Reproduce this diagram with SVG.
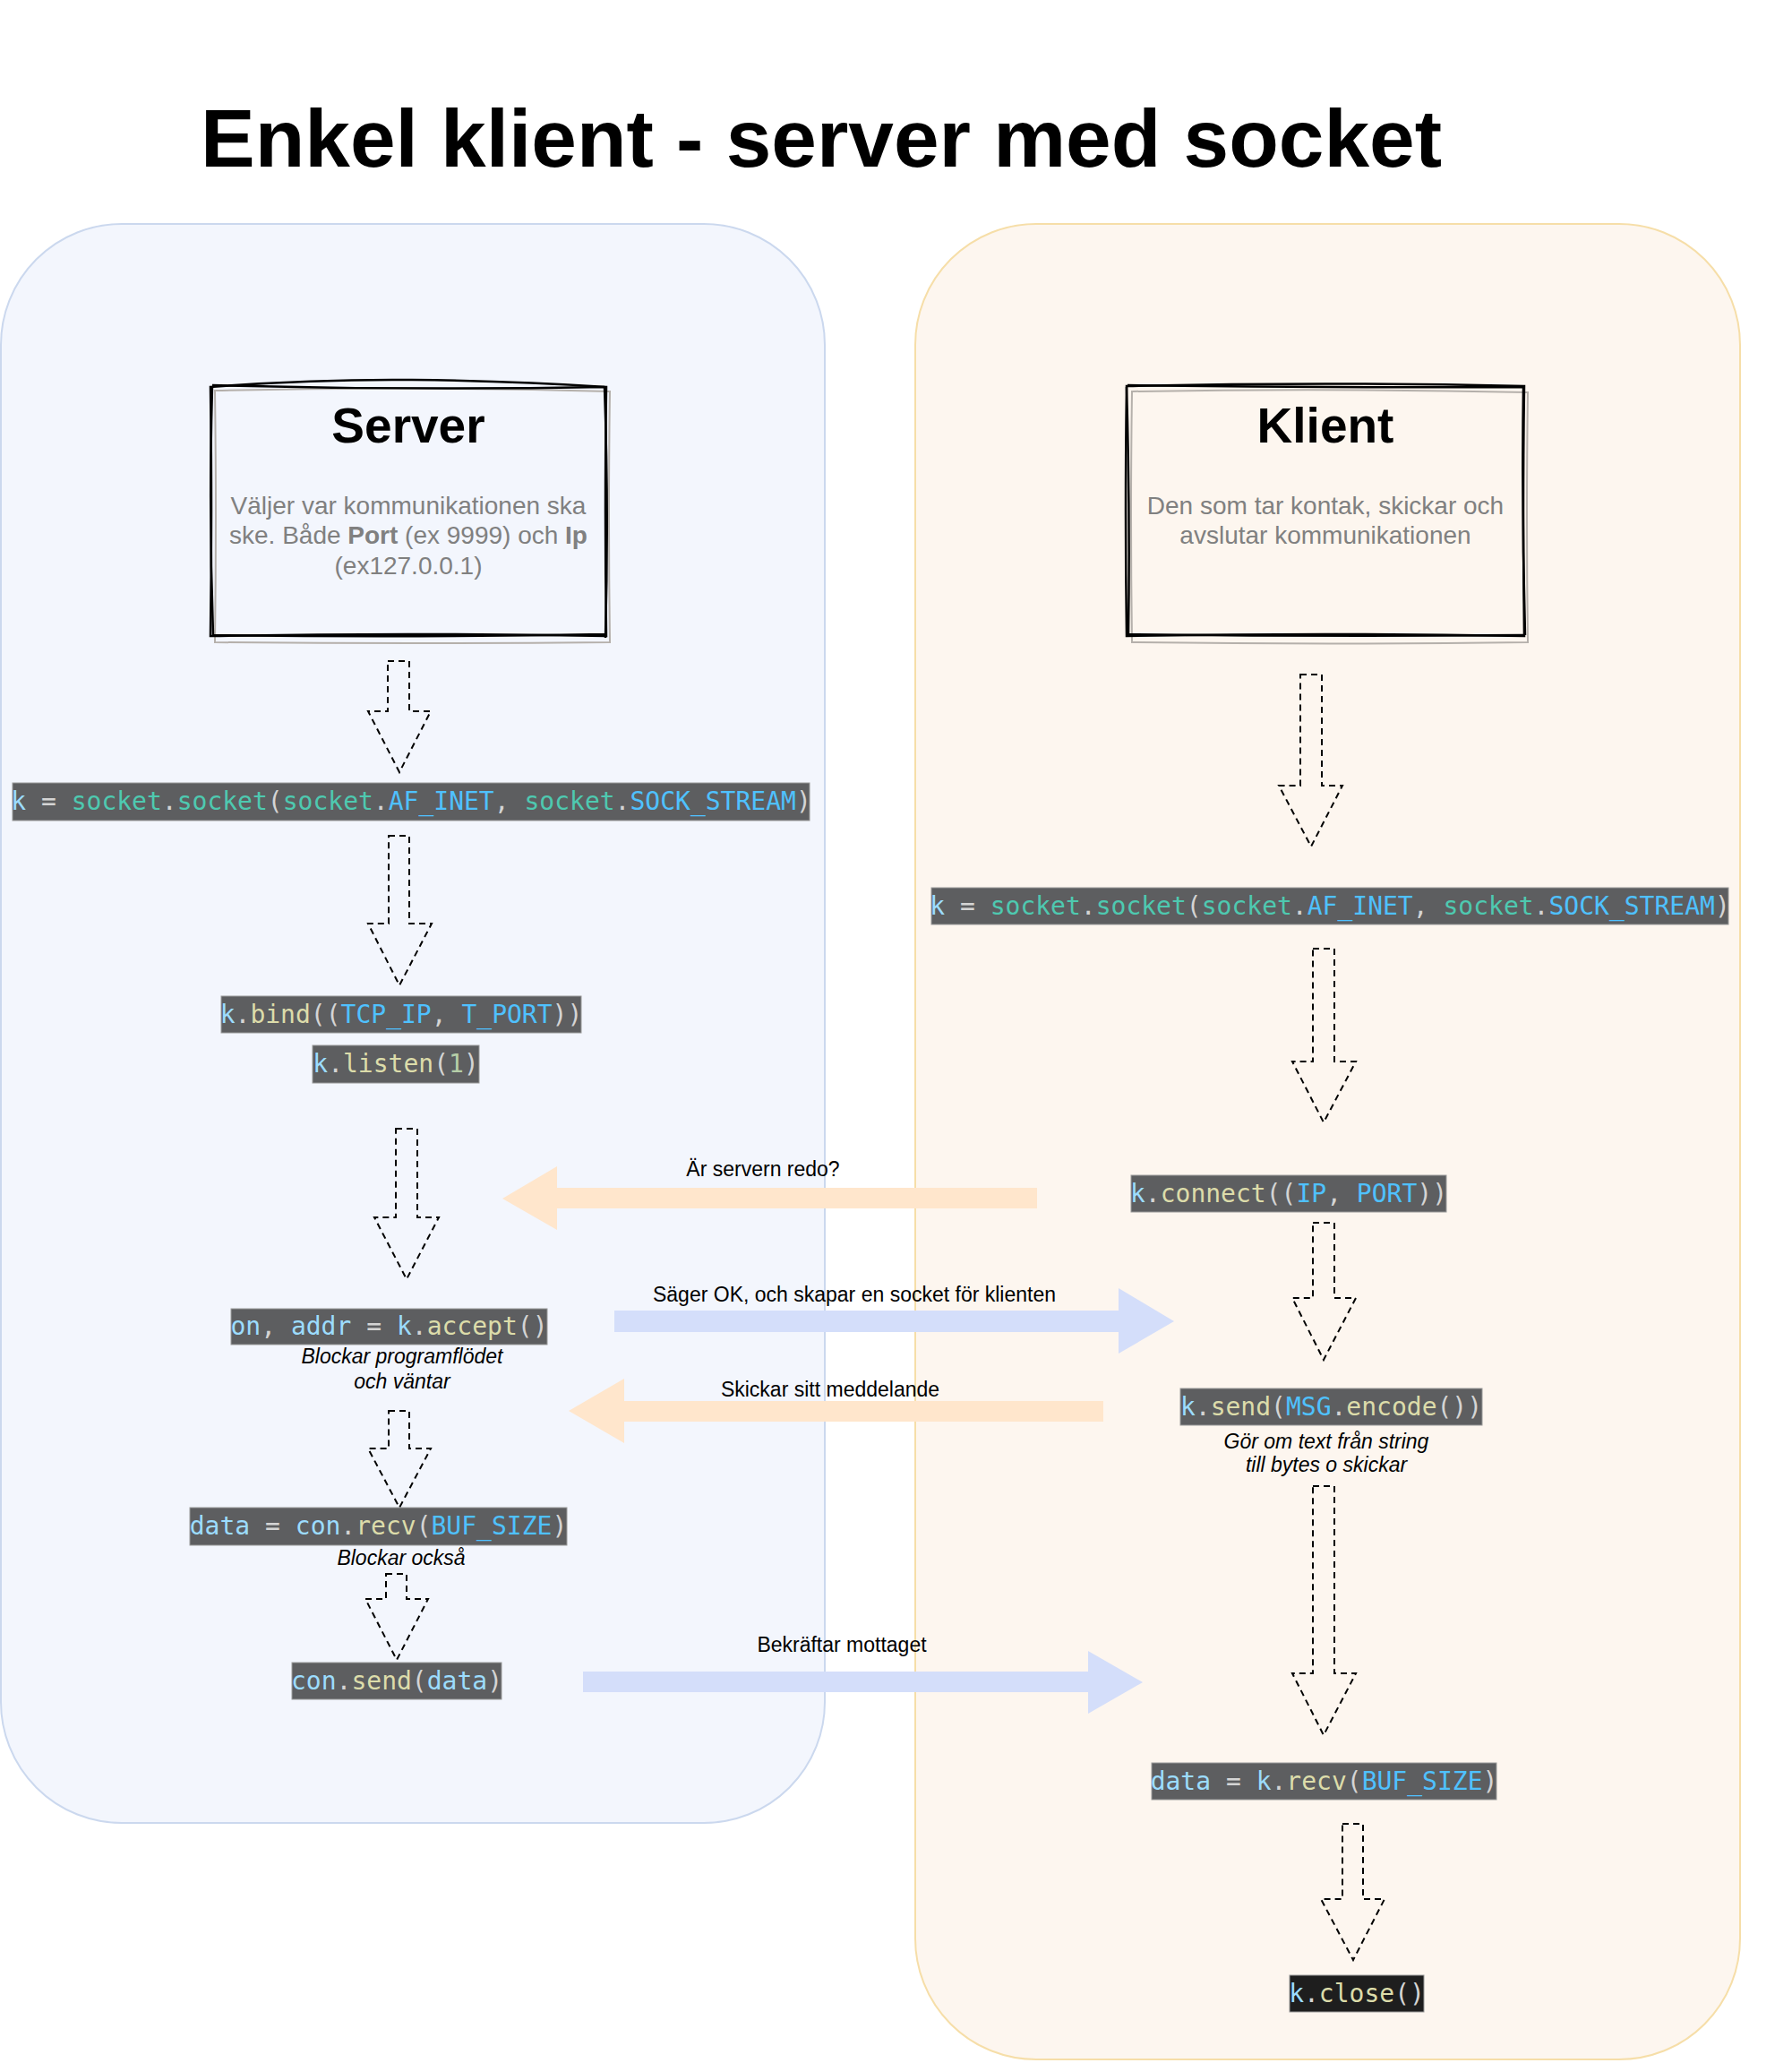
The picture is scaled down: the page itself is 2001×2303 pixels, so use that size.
<svg xmlns="http://www.w3.org/2000/svg" width="2001" height="2303" viewBox="0 0 2001 2303">
<style>
.t{font-family:"Liberation Sans",Arial,sans-serif}
.title{font-size:91px;font-weight:bold;fill:#000}
.head{font-size:55px;font-weight:bold;fill:#000}
.desc{font-size:28px;fill:#808080}
.lbl{font-size:23px;fill:#000}
.note{font-size:23px;font-style:italic;fill:#000}
.code{font-family:"DejaVu Sans Mono","Liberation Mono",monospace;font-size:28px;fill:#d4d4d4}
.cbox{fill:#5d5e60;stroke:#9a9a9a;stroke-width:1}
.cbox2{fill:#1e1e1e;stroke:#9a9a9a;stroke-width:1}
.v{fill:#9cdcfe}.c{fill:#4ec9b0}.f{fill:#dcdcaa}.k{fill:#4fc1ff}.n{fill:#b5cea8}
.da{fill:none;stroke:#000;stroke-width:2;stroke-dasharray:7 5}
.sk1{fill:none;stroke:#000;stroke-width:2.5}
.sk2{fill:none;stroke:#b5b0ab;stroke-width:2}
</style>
<rect width="2001" height="2303" fill="#ffffff"/>
<text class="t title" x="917" y="186" text-anchor="middle">Enkel klient - server med socket</text>

<g id="server-container">
<rect x="1" y="250" width="920" height="1785" rx="135" ry="135" fill="#f3f6fd" stroke="#cbd8ee" stroke-width="2"/>
</g>
<g id="client-container">
<rect x="1022" y="250" width="921" height="2049" rx="135" ry="135" fill="#fdf6ef" stroke="#f6dea8" stroke-width="2"/>
</g>

<g id="server-box">
<path class="sk2" d="M240 436 Q460 431 681 437 Q679 575 681 717 Q460 719 240 717 Q242 575 240 436 Z"/>
<path class="sk1" d="M235 432 Q350 423 460 424 Q570 425 677 432 Q675 570 677 710 Q456 706 235 710 Q237 570 235 432 Z"/>
<path class="sk1" d="M237 430 Q456 436 675 432 M675 432 Q680 570 676 712 M239 709 Q456 712 676 708 M237 431 Q233 570 238 709"/>
<text class="t head" x="456" y="494" text-anchor="middle">Server</text>
<text class="t desc" x="456" y="574" text-anchor="middle">Väljer var kommunikationen ska</text>
<text class="t desc" x="456" y="607" text-anchor="middle">ske. Både <tspan font-weight="bold">Port</tspan> (ex 9999) och <tspan font-weight="bold">Ip</tspan></text>
<text class="t desc" x="456" y="641" text-anchor="middle">(ex127.0.0.1)</text>
</g>

<g id="client-box">
<path class="sk2" d="M1264 437 Q1485 433 1706 438 Q1704 575 1706 717 Q1485 720 1264 717 Q1262 575 1264 437 Z"/>
<path class="sk1" d="M1258 431 Q1480 426 1702 431 Q1700 570 1702 710 Q1480 706 1258 710 Q1256 570 1258 431 Z"/>
<path class="sk1" d="M1259 430 Q1480 433 1701 432 M1701 432 Q1699 570 1703 709 M1259 708 Q1480 711 1701 709 M1258 432 Q1262 570 1260 709"/>
<text class="t head" x="1480" y="494" text-anchor="middle">Klient</text>
<text class="t desc" x="1480" y="574" text-anchor="middle">Den som tar kontak, skickar och</text>
<text class="t desc" x="1480" y="607" text-anchor="middle">avslutar kommunikationen</text>
</g>

<g id="s-socket">
<rect class="cbox" x="14" y="874" width="890" height="42"/>
<text class="code" x="459" y="904" text-anchor="middle"><tspan class="v">k</tspan> = <tspan class="c">socket</tspan>.<tspan class="c">socket</tspan>(<tspan class="c">socket</tspan>.<tspan class="k">AF_INET</tspan>, <tspan class="c">socket</tspan>.<tspan class="k">SOCK_STREAM</tspan>)</text>
</g>
<g id="s-bind">
<rect class="cbox" x="247" y="1112" width="402" height="41"/>
<text class="code" x="448" y="1142" text-anchor="middle"><tspan class="v">k</tspan>.<tspan class="f">bind</tspan>((<tspan class="k">TCP_IP</tspan>, <tspan class="k">T_PORT</tspan>))</text>
</g>
<g id="s-listen">
<rect class="cbox" x="349" y="1167" width="186" height="42"/>
<text class="code" x="442" y="1197" text-anchor="middle"><tspan class="v">k</tspan>.<tspan class="f">listen</tspan>(<tspan class="n">1</tspan>)</text>
</g>
<g id="s-accept">
<rect class="cbox" x="258" y="1461" width="353" height="40"/>
<text class="code" x="434.5" y="1490" text-anchor="middle"><tspan class="v">on</tspan>, <tspan class="v">addr</tspan> = <tspan class="v">k</tspan>.<tspan class="f">accept</tspan>()</text>
<text class="t note" x="449" y="1522" text-anchor="middle">Blockar programflödet</text>
<text class="t note" x="449" y="1550" text-anchor="middle">och väntar</text>
</g>
<g id="s-recv">
<rect class="cbox" x="212" y="1683" width="421" height="42"/>
<text class="code" x="422.5" y="1713" text-anchor="middle"><tspan class="v">data</tspan> = <tspan class="v">con</tspan>.<tspan class="f">recv</tspan>(<tspan class="k">BUF_SIZE</tspan>)</text>
<text class="t note" x="448" y="1747" text-anchor="middle">Blockar också</text>
</g>
<g id="s-send">
<rect class="cbox" x="326" y="1856" width="234" height="41"/>
<text class="code" x="443" y="1886" text-anchor="middle"><tspan class="v">con</tspan>.<tspan class="f">send</tspan>(<tspan class="v">data</tspan>)</text>
</g>

<g id="c-socket">
<rect class="cbox" x="1040" y="991" width="890" height="41"/>
<text class="code" x="1485" y="1021" text-anchor="middle"><tspan class="v">k</tspan> = <tspan class="c">socket</tspan>.<tspan class="c">socket</tspan>(<tspan class="c">socket</tspan>.<tspan class="k">AF_INET</tspan>, <tspan class="c">socket</tspan>.<tspan class="k">SOCK_STREAM</tspan>)</text>
</g>
<g id="c-connect">
<rect class="cbox" x="1263" y="1312" width="352" height="41"/>
<text class="code" x="1439" y="1342" text-anchor="middle"><tspan class="v">k</tspan>.<tspan class="f">connect</tspan>((<tspan class="k">IP</tspan>, <tspan class="k">PORT</tspan>))</text>
</g>
<g id="c-send">
<rect class="cbox" x="1318" y="1550" width="337" height="41"/>
<text class="code" x="1486.5" y="1580" text-anchor="middle"><tspan class="v">k</tspan>.<tspan class="f">send</tspan>(<tspan class="k">MSG</tspan>.<tspan class="f">encode</tspan>())</text>
<text class="t note" x="1481" y="1617" text-anchor="middle">Gör om text från string</text>
<text class="t note" x="1481" y="1643" text-anchor="middle">till bytes o skickar</text>
</g>
<g id="c-recv">
<rect class="cbox" x="1286" y="1968" width="385" height="41"/>
<text class="code" x="1478.5" y="1998" text-anchor="middle"><tspan class="v">data</tspan> = <tspan class="v">k</tspan>.<tspan class="f">recv</tspan>(<tspan class="k">BUF_SIZE</tspan>)</text>
</g>
<g id="c-close">
<rect class="cbox2" x="1440" y="2205" width="150" height="41"/>
<text class="code" x="1515" y="2235" text-anchor="middle"><tspan class="v">k</tspan>.<tspan class="f">close</tspan>()</text>
</g>

<g id="connectors">
<path class="da" d="M433 738 H457 V794 H481 L446 862 L411 794 H433 Z"/>
<path class="da" d="M434 933 H457 V1031 H482 L446 1100 L411 1031 H434 Z"/>
<path class="da" d="M442 1260 H466 V1359 H490 L454 1428 L418 1359 H442 Z"/>
<path class="da" d="M434 1575 H457 V1617 H481 L446 1683 L411 1617 H434 Z"/>
<path class="da" d="M431 1757 H454 V1785 H478 L443 1853 L408 1785 H431 Z"/>
<path class="da" d="M1452 753 H1476 V877 H1499 L1464 945 L1428 877 H1452 Z"/>
<path class="da" d="M1466 1059 H1490 V1185 H1514 L1478 1253 L1443 1185 H1466 Z"/>
<path class="da" d="M1466 1365 H1490 V1449 H1514 L1478 1518 L1443 1449 H1466 Z"/>
<path class="da" d="M1466 1659 H1490 V1868 H1514 L1478 1937 L1443 1868 H1466 Z"/>
<path class="da" d="M1499 2036 H1522 V2120 H1546 L1511 2188 L1475 2120 H1499 Z"/>

<path fill="#ffe6cc" d="M1158 1326 V1349 H622 V1373 L561 1338 L622 1302 V1326 Z"/>
<text class="t lbl" x="852" y="1313" text-anchor="middle">Är servern redo?</text>
<path fill="#d4defa" d="M686 1463 H1249 V1438 L1311 1475 L1249 1511 V1487 H686 Z"/>
<text class="t lbl" x="954" y="1453" text-anchor="middle">Säger OK, och skapar en socket för klienten</text>
<path fill="#ffe6cc" d="M1232 1564 V1587 H697 V1611 L635 1575 L697 1539 V1564 Z"/>
<text class="t lbl" x="927" y="1559" text-anchor="middle">Skickar sitt meddelande</text>
<path fill="#d4defa" d="M651 1866 H1215 V1843 L1276 1878 L1215 1913 V1889 H651 Z"/>
<text class="t lbl" x="940" y="1844" text-anchor="middle">Bekräftar mottaget</text>
</g>
</svg>
